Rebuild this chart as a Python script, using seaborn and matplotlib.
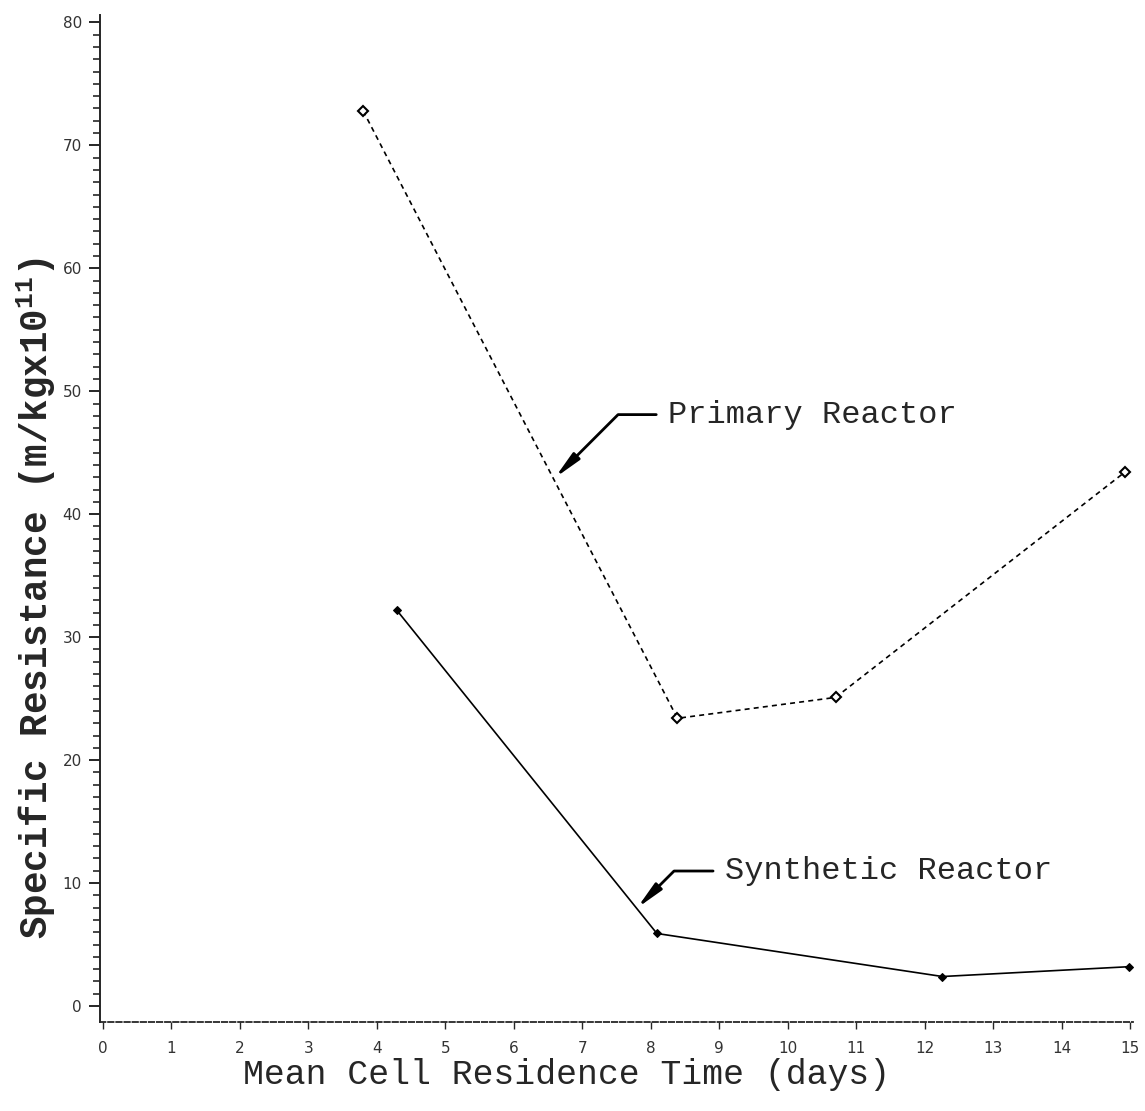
import numpy as np
import pandas as pd
import matplotlib
matplotlib.use("Agg")
import matplotlib.pyplot as plt
import seaborn as sns

# ---- data ----
primary_x = [3.80, 8.39, 10.70, 14.92]
primary_y = [72.8, 23.4, 25.1, 43.4]
synthetic_x = [4.29, 8.09, 12.26, 14.99]
synthetic_y = [32.2, 5.9, 2.4, 3.2]
x_ticks = list(range(0, 16))
y_ticks = list(range(0, 90, 10))
series_names = ["Primary Reactor", "Synthetic Reactor"]

df = pd.DataFrame({
    "x": primary_x + synthetic_x,
    "y": primary_y + synthetic_y,
    "series": [series_names[0]] * len(primary_x) + [series_names[1]] * len(synthetic_x),
})

sns.set_theme(style="ticks")
plt.rcParams["font.family"] = ["DejaVu Sans"]
plt.rcParams["mathtext.fontset"] = "custom"
plt.rcParams["mathtext.rm"] = "Liberation Mono:bold"
plt.rcParams["mathtext.bf"] = "Liberation Mono:bold"
plt.rcParams["mathtext.default"] = "rm"

fig = plt.figure(figsize=(11.45, 11.11), dpi=100)
ax = fig.add_axes([0.0873, 0.0801, 0.902, 0.9064])

p = df[df.series == series_names[0]]
s = df[df.series == series_names[1]]
sns.lineplot(data=p, x="x", y="y", ax=ax, color="black", lw=1.2,
             marker="D", markersize=5, markerfacecolor="white",
             markeredgecolor="black", markeredgewidth=1.5, sort=False)
ax.lines[-1].set_dashes((3, 2.5))
sns.lineplot(data=s, x="x", y="y", ax=ax, color="black", lw=1.2,
             marker="D", markersize=4, markerfacecolor="black",
             markeredgecolor="black", sort=False)

ax.set_xlim(-0.044, 15.04)
ax.set_ylim(-1.3, 80.6)
ax.set_xticks(x_ticks)
ax.set_xticklabels([str(t) for t in x_ticks])
ax.set_yticks(y_ticks)
ax.set_yticklabels([str(t) for t in y_ticks])
ax.set_yticks(np.arange(0, 81, 1), minor=True)

for side in ["top", "right"]:
    ax.spines[side].set_visible(False)
ax.spines["left"].set_linewidth(1.4)
ax.spines["bottom"].set_linewidth(1.3)
ax.spines["bottom"].set_linestyle((0, (3, 1.5)))

ax.tick_params(axis="y", which="major", length=8, width=1.4, direction="out",
               pad=5, labelsize=11, labelcolor="#333333")
ax.tick_params(axis="y", which="minor", length=5, width=1.2, direction="out")
ax.tick_params(axis="x", which="major", length=5, width=1.0, direction="out",
               pad=9, labelsize=11, labelcolor="#333333")

ax.set_xlabel("Mean Cell Residence Time (days)", fontsize=25,
              family=["Liberation Mono", "DejaVu Sans Mono"])
ax.xaxis.set_label_coords(0.452, -0.0526)
ax.xaxis.label.set_verticalalignment("center")

ax.set_ylabel("Specific Resistance (m/kgx10$^{11}$)", fontsize=27,
              fontweight="bold", family=["Liberation Mono", "DejaVu Sans Mono"])
ax.yaxis.set_label_coords(-0.062, 0.421)
ax.yaxis.label.set_verticalalignment("center")

arrow = dict(arrowstyle="-|>,head_length=0.7,head_width=0.12", color="black",
             lw=2.0, shrinkA=6, shrinkB=0,
             connectionstyle="angle,angleA=0,angleB=45,rad=0")
ax.annotate(series_names[0], xy=(6.60, 42.96), xytext=(8.25, 48.1),
            ha="left", va="center", fontsize=23,
            family=["Liberation Mono", "DejaVu Sans Mono"], arrowprops=arrow)
ax.annotate(series_names[1], xy=(7.80, 7.97), xytext=(9.08, 10.98),
            ha="left", va="center", fontsize=23,
            family=["Liberation Mono", "DejaVu Sans Mono"], arrowprops=arrow)

leg = ax.get_legend()
if leg is not None:
    leg.remove()

fig.savefig("out.png", dpi=100)
